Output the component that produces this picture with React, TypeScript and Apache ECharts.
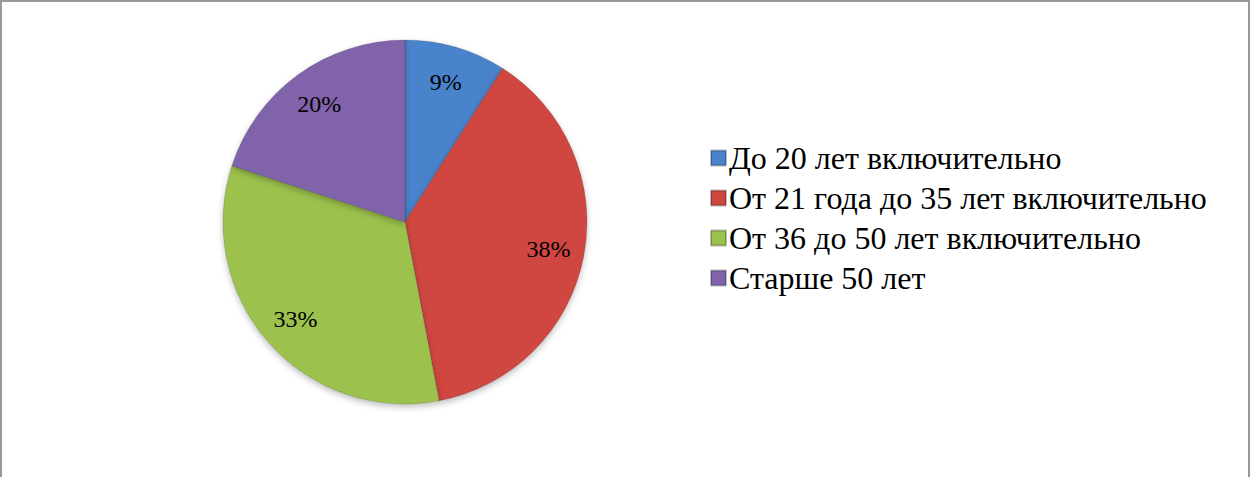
import React, { useEffect, useRef } from "react";
import * as echarts from "echarts";

const categories = [
  "До 20 лет включительно",
  "От 21 года до 35 лет включительно",
  "От 36 до 50 лет включительно",
  "Старше 50 лет",
];
const values = [9, 38, 33, 20];
const colors = ["#4A83CB", "#CF4641", "#9CC24E", "#8163AB"];

const SERIF = "Liberation Serif, DejaVu Serif";

export default function App() {
  const ref = useRef<HTMLDivElement>(null);
  useEffect(() => {
    if (!ref.current) return;
    const chart = echarts.init(ref.current, null, { renderer: "svg" });
    const data = categories.map((name, i) => ({
      name,
      value: values[i],
      itemStyle: { color: colors[i] },
    }));
    chart.setOption({
      animation: false,
      backgroundColor: "#ffffff",
      graphic: [
        {
          type: "rect",
          shape: { x: 1, y: 1, width: 1248, height: 520 },
          style: { fill: "none", stroke: "#999999", lineWidth: 2 },
          silent: true,
        },
      ],
      legend: {
        orient: "vertical",
        left: 710,
        top: 138,
        padding: 0,
        icon: "rect",
        itemWidth: 15,
        itemHeight: 15,
        itemGap: 0,
        data: categories,
        textStyle: {
          fontFamily: SERIF,
          fontSize: 32,
          lineHeight: 40,
          color: "#000000",
          padding: [0, 0, 0, -2],
        },
      },
      series: [
        {
          type: "pie",
          center: [405, 222],
          radius: [0, 182],
          startAngle: 90,
          clockwise: true,
          data,
          label: { show: false },
          labelLine: { show: false },
          itemStyle: {
            borderColor: "rgba(0,0,0,0.25)",
            borderWidth: 0.6,
            shadowBlur: 6,
            shadowOffsetY: 3,
            shadowColor: "rgba(0,0,0,0.25)",
          },
          emphasis: { disabled: true },
        },
        {
          type: "pie",
          center: [405, 222],
          radius: [104, 182],
          startAngle: 90,
          clockwise: true,
          silent: true,
          data: categories.map((name, i) => ({ name, value: values[i] })),
          itemStyle: { color: "rgba(0,0,0,0)" },
          label: {
            show: true,
            position: "inside",
            formatter: (p: any) => `${p.value}%`,
            fontFamily: SERIF,
            fontSize: 24,
            color: "#000000",
          },
          labelLine: { show: false },
          emphasis: { disabled: true },
        },
      ],
    });
    return () => chart.dispose();
  }, []);
  return (
    <div
      ref={ref}
      style={{ position: "fixed", left: 0, top: 0, width: 1251, height: 477 }}
    />
  );
}
